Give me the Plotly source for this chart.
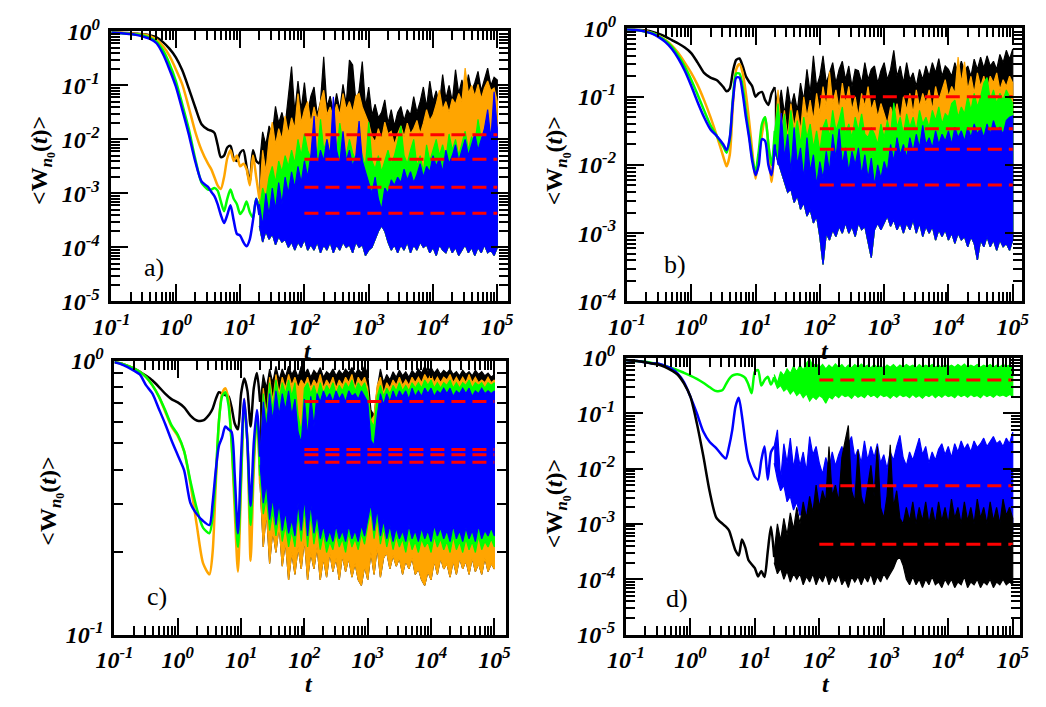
import plotly.graph_objects as go

# ---------------- sampling grids (log10 of t) ----------------
LT_SMOOTH = [-1.0, -0.9, -0.8, -0.7, -0.6, -0.5, -0.4, -0.3, -0.2, -0.1,
             0.0, 0.1, 0.2, 0.3, 0.4, 0.5, 0.55, 0.6, 0.65, 0.7,
             0.75, 0.8, 0.85, 0.9, 0.95, 1.0, 1.05, 1.1, 1.15, 1.2,
             1.25, 1.3]
LT_NOISE = [1.30, 1.35, 1.40, 1.45, 1.50, 1.55, 1.60, 1.65, 1.70, 1.75, 1.80, 1.85, 1.90, 1.95, 2.00,
            2.05, 2.10, 2.15, 2.20, 2.25, 2.30, 2.35, 2.40, 2.45, 2.50, 2.55, 2.60, 2.65, 2.70, 2.75,
            2.80, 2.85, 2.90, 2.95, 3.00, 3.05, 3.10, 3.15, 3.20, 3.25, 3.30, 3.35, 3.40, 3.45, 3.50,
            3.55, 3.60, 3.65, 3.70, 3.75, 3.80, 3.85, 3.90, 3.95, 4.00, 4.05, 4.10, 4.15, 4.20, 4.25,
            4.30, 4.35, 4.40, 4.45, 4.50, 4.55, 4.60, 4.65, 4.70, 4.75, 4.80, 4.85, 4.90, 4.95, 5.00]

# ---------------- panel a (log10 <W>) ----------------
A_BLACK_S = [-0.02, -0.02, -0.03, -0.035, -0.045, -0.055, -0.075, -0.11, -0.2, -0.32,
             -0.48, -0.72, -1.05, -1.4, -1.72, -1.82, -1.84, -1.88, -2.1, -2.33,
             -2.3, -2.15, -2.12, -2.35, -2.4, -2.25, -2.2, -2.5, -2.8, -2.2,
             -2.4, -2.45]
A_ORANGE_S = [-0.02, -0.02, -0.03, -0.04, -0.05, -0.06, -0.09, -0.15, -0.27, -0.45,
              -0.7, -0.98, -1.4, -1.85, -2.2, -2.45, -2.55, -2.7, -2.85, -2.92,
              -2.7, -2.35, -2.2, -2.4, -2.3, -2.5, -2.45, -2.55, -2.85, -2.3,
              -2.7, -3.1]
A_GREEN_S = [-0.02, -0.03, -0.04, -0.05, -0.06, -0.08, -0.12, -0.19, -0.35, -0.6,
             -0.92, -1.35, -1.8, -2.35, -2.8, -2.93, -2.93, -2.9, -2.95, -3.15,
             -3.33, -3.1, -2.93, -3.1, -3.2, -3.38, -3.3, -3.15, -3.35, -3.45,
             -3.1, -3.25]
A_BLUE_S = [-0.02, -0.03, -0.04, -0.05, -0.07, -0.1, -0.14, -0.22, -0.42, -0.7,
            -1.02, -1.45, -1.9, -2.4, -2.78, -2.88, -2.97, -3.05, -3.2, -3.4,
            -3.55, -3.4, -3.22, -3.5, -3.75, -3.78, -3.9, -3.98, -3.85, -3.5,
            -3.1, -3.4]
A_BLACK_UP = [-2.45, -1.86, -2.1, -1.75, -1.9, -1.39, -1.7, -1.5, -1.75, -1.2, -0.65, -1.5, -0.92, -1.45, -0.95,
              -1.5, -1.2, -1.03, -1.55, -1.3, -0.47, -1.4, -1.2, -1.5, -1.15, -1.45, -0.98, -1.35, -0.53, -0.62,
              -1.3, -1.1, -0.56, -1.4, -1.03, -1.55, -1.35, -1.6, -1.5, -1.27, -1.7, -1.45, -1.75, -1.5, -1.39,
              -1.65, -1.45, -1.55, -1.21, -1.5, -1.3, -1.03, -1.4, -0.92, -1.3, -1.1, -1.35, -0.8, -1.25, -1.0,
              -1.3, -0.71, -1.15, -0.9, -1.2, -0.8, -1.1, -0.95, -0.74, -1.1, -0.9, -0.68, -1.0, -0.85, -0.9]
A_ORANGE_UP = [-3.1, -2.2, -2.6, -2.0, -1.68, -2.1, -1.8, -2.0, -1.57, -1.9, -1.6, -1.8, -1.15, -1.7, -1.45,
               -1.3, -1.7, -1.4, -1.65, -1.3, -1.09, -1.55, -1.4, -1.6, -1.35, -1.55, -1.15, -1.45, -1.3, -1.5,
               -1.2, -1.15, -1.4, -1.55, -1.7, -1.95, -2.05, -1.8, -2.0, -1.68, -1.9, -1.85, -2.1, -1.9, -1.75,
               -1.95, -1.7, -1.9, -1.8, -1.65, -1.9, -1.7, -1.45, -1.65, -1.55, -1.35, -1.09, -1.45, -1.3, -1.5,
               -1.25, -1.35, -1.15, -1.3, -0.68, -1.15, -1.0, -1.2, -0.98, -1.25, -1.05, -0.92, -1.1, -1.05, -1.3]
A_GREEN_UP = [-3.3, -2.9, -3.1, -2.7, -2.5, -2.8, -2.4, -2.6, -2.3, -2.5, -2.2, -2.45, -2.0, -2.3, -1.9,
              -2.2, -2.35, -2.0, -2.3, -1.63, -2.2, -2.0, -2.3, -1.9, -2.25, -1.7, -2.1, -2.3, -2.0, -2.25,
              -2.4, -2.1, -2.3, -2.5, -1.68, -2.4, -2.55, -2.3, -2.6, -2.4, -2.2, -2.45, -2.3, -2.05, -1.75,
              -2.3, -2.45, -2.2, -2.0, -2.5, -2.3, -2.6, -2.1, -2.4, -2.2, -2.0, -2.3, -2.1, -2.35, -1.9,
              -2.2, -2.0, -2.3, -2.05, -1.85, -2.2, -1.95, -2.1, -1.63, -2.0, -1.9, -1.63, -1.95, -2.1, -2.3]
A_BLUE_UP = [-3.2, -3.6, -3.0, -3.4, -2.9, -3.3, -2.8, -3.2, -2.7, -3.0, -2.6, -2.9, -2.5, -2.8, -2.4,
             -2.7, -2.3, -1.57, -2.5, -2.2, -2.4, -2.0, -2.3, -1.21, -2.2, -2.45, -1.85, -2.4, -2.2, -2.5,
             -2.3, -1.66, -2.4, -2.6, -2.8, -3.0, -2.7, -3.1, -3.3, -2.9, -3.0, -2.75, -2.85, -2.7, -2.8,
             -2.55, -2.75, -2.6, -2.8, -2.65, -2.45, -2.7, -2.5, -2.6, -2.3, -2.5, -2.35, -2.6, -2.2, -2.45,
             -2.3, -2.1, -2.4, -2.2, -2.0, -2.3, -2.1, -1.9, -2.2, -2.0, -1.8, -1.45, -2.0, -1.12, -1.8]
A_LOW = [-3.6, -3.9, -3.7, -3.85, -3.75, -3.95, -3.8, -3.9, -3.85, -4.0, -3.9, -4.05, -3.9, -4.0, -3.85,
         -4.05, -3.95, -4.05, -3.9, -4.1, -3.95, -4.05, -3.9, -4.1, -3.95, -4.05, -3.9, -4.0, -3.95, -4.1,
         -3.9, -4.0, -3.95, -4.15, -4.05, -4.0, -3.85, -3.7, -3.6, -3.7, -3.9, -4.05, -3.95, -4.1, -3.95,
         -4.05, -3.9, -4.1, -3.95, -4.05, -3.9, -4.0, -3.95, -4.1, -4.0, -4.15, -3.95, -4.05, -4.1, -3.95,
         -4.1, -4.0, -4.15, -4.05, -3.95, -4.1, -4.0, -4.15, -4.0, -4.1, -3.95, -4.1, -4.05, -4.15, -4.0]
A_MEAN = [0.0122, 0.0043, 0.0013, 0.00043]

# ---------------- panel b ----------------
B_BLACK_S = [-0.01, -0.01, -0.02, -0.03, -0.05, -0.08, -0.12, -0.17, -0.22, -0.28,
             -0.36, -0.5, -0.65, -0.72, -0.76, -0.86, -0.92, -0.88, -0.62, -0.46,
             -0.44, -0.55, -0.7, -0.78, -0.85, -1.0, -0.95, -0.93, -1.05, -1.12,
             -0.95, -0.86]
B_ORANGE_S = [-0.01, -0.02, -0.03, -0.04, -0.07, -0.11, -0.17, -0.25, -0.36, -0.5,
              -0.65, -0.83, -1.05, -1.3, -1.58, -1.88, -2.02, -1.85, -1.1, -0.6,
              -0.52, -0.65, -0.95, -1.35, -1.8, -2.2, -1.9, -1.55, -1.3, -1.7,
              -2.25, -1.6]
B_GREEN_S = [-0.01, -0.02, -0.03, -0.05, -0.07, -0.12, -0.18, -0.27, -0.4, -0.56,
             -0.75, -0.97, -1.2, -1.42, -1.58, -1.73, -1.82, -1.62, -1.0, -0.66,
             -0.66, -0.85, -1.2, -1.55, -1.9, -2.1, -1.8, -1.4, -1.3, -1.7,
             -2.0, -1.5]
B_BLUE_S = [-0.01, -0.02, -0.03, -0.05, -0.08, -0.13, -0.2, -0.3, -0.44, -0.62,
            -0.84, -1.08, -1.3, -1.48, -1.58, -1.7, -1.78, -1.6, -1.05, -0.72,
            -0.72, -0.95, -1.3, -1.6, -1.95, -2.15, -2.0, -1.62, -1.65, -2.0,
            -2.15, -1.7]
B_BLACK_UP = [-0.86, -1.2, -0.9, -1.25, -0.85, -1.15, -0.95, -1.2, -0.8, -1.05, -0.6, -0.95, -0.4, -0.85, -0.7,
              -0.4, -0.8, -0.65, -0.5, -0.8, -0.6, -0.48, -0.75, -0.55, -0.85, -0.6, -0.62, -0.8, -0.5, -0.75,
              -0.6, -0.55, -0.8, -0.62, -0.5, -0.75, -0.6, -0.32, -0.7, -0.55, -0.8, -0.5, -0.75, -0.65, -0.85,
              -0.6, -0.75, -0.55, -0.7, -0.5, -0.65, -0.44, -0.7, -0.55, -0.6, -0.7, -0.5, -0.65, -0.48, -0.62,
              -0.55, -0.7, -0.45, -0.6, -0.42, -0.58, -0.4, -0.55, -0.48, -0.6, -0.38, -0.5, -0.32, -0.45, -0.3]
B_ORANGE_UP = [-1.6, -0.9, -1.5, -1.2, -1.6, -1.1, -1.45, -1.2, -1.5, -1.0, -1.3, -1.05, -1.35, -0.95, -1.25,
               -0.85, -1.15, -0.63, -1.1, -0.9, -1.2, -0.8, -1.1, -0.85, -1.2, -1.0, -1.3, -0.95, -1.15, -0.85,
               -1.2, -1.05, -1.3, -1.1, -1.25, -1.4, -1.15, -1.3, -1.1, -1.35, -1.0, -1.2, -0.95, -1.25, -0.9,
               -1.15, -0.95, -1.1, -0.9, -1.2, -0.85, -1.05, -0.9, -0.75, -1.0, -0.85, -0.95, -0.42, -0.8, -0.49,
               -0.9, -0.7, -0.95, -0.65, -0.85, -0.7, -0.9, -0.7, -0.8, -0.65, -0.9, -0.75, -0.85, -0.7, -0.8]
B_GREEN_UP = [-1.5, -1.1, -1.6, -1.25, -1.7, -1.2, -1.6, -1.35, -1.7, -1.3, -1.6, -1.4, -1.75, -1.5, -1.8,
              -1.45, -1.33, -1.6, -1.2, -1.5, -1.35, -1.15, -1.55, -1.4, -1.6, -1.3, -1.5, -1.25, -1.55, -1.6,
              -1.45, -1.55, -1.7, -1.4, -1.6, -1.35, -1.55, -1.09, -1.45, -1.3, -1.55, -1.25, -1.45, -1.3, -1.5,
              -1.2, -1.4, -1.3, -1.45, -1.2, -1.35, -1.15, -1.4, -1.25, -1.3, -1.1, -1.05, -1.3, -1.15, -1.25,
              -1.0, -1.2, -0.95, -1.15, -1.0, -0.8, -0.72, -1.05, -0.9, -1.1, -0.95, -1.05, -0.9, -1.0, -1.1]
B_BLUE_UP = [-1.7, -2.0, -1.24, -1.9, -1.55, -2.1, -1.45, -2.0, -1.75, -2.2, -1.6, -2.1, -1.85, -2.3, -1.95,
             -2.2, -1.8, -2.1, -1.55, -1.9, -1.47, -2.0, -1.75, -2.1, -1.8, -2.0, -1.75, -2.15, -1.85, -2.2,
             -1.9, -2.3, -2.0, -2.2, -1.95, -2.1, -1.7, -1.95, -1.6, -1.85, -1.7, -1.9, -1.6, -1.8, -1.55,
             -1.75, -1.42, -1.7, -1.6, -1.75, -1.5, -1.7, -1.55, -1.65, -1.5, -1.7, -1.45, -1.6, -1.5, -1.65,
             -1.45, -1.6, -1.4, -1.55, -1.45, -1.6, -1.4, -1.55, -1.35, -1.5, -1.45, -1.55, -1.35, -1.3, -1.28]
B_LOW = [-1.8, -1.95, -2.1, -2.25, -2.4, -2.35, -2.55, -2.45, -2.65, -2.55, -2.75, -2.65, -2.85, -2.75, -3.05,
         -3.46, -3.0, -3.1, -2.95, -3.05, -2.9, -3.0, -2.85, -3.0, -2.9, -3.05, -2.85, -2.95, -2.9, -3.1,
         -3.36, -2.95, -2.85, -2.95, -2.85, -2.75, -2.9, -2.8, -2.95, -2.85, -3.0, -2.85, -2.95, -2.8, -3.0,
         -2.85, -3.05, -2.9, -3.0, -2.9, -3.1, -2.95, -3.05, -2.95, -3.1, -3.0, -3.15, -3.0, -3.1, -3.05,
         -3.2, -3.05, -3.15, -3.39, -3.1, -3.2, -3.05, -3.2, -3.1, -3.25, -3.1, -3.2, -3.15, -3.25, -3.1]
B_MEAN = [0.1, 0.034, 0.017, 0.0051]

# ---------------- panel c ----------------
C_BLACK_S = [-0.005, -0.01, -0.018, -0.027, -0.04, -0.055, -0.072, -0.095, -0.12, -0.14,
             -0.152, -0.17, -0.2, -0.218, -0.218, -0.195, -0.175, -0.14, -0.115, -0.12,
             -0.125, -0.13, -0.17, -0.23, -0.25, -0.12, -0.065, -0.11, -0.24, -0.1,
             -0.045, -0.15]
C_ORANGE_S = [-0.005, -0.01, -0.018, -0.028, -0.04, -0.06, -0.09, -0.13, -0.185, -0.24,
              -0.275, -0.33, -0.45, -0.6, -0.74, -0.78, -0.7, -0.45, -0.22, -0.12,
              -0.1, -0.14, -0.3, -0.55, -0.77, -0.45, -0.14, -0.3, -0.73, -0.4,
              -0.2, -0.45]
C_GREEN_S = [-0.005, -0.01, -0.018, -0.028, -0.04, -0.06, -0.09, -0.13, -0.18, -0.235,
             -0.27, -0.33, -0.44, -0.54, -0.61, -0.63, -0.57, -0.42, -0.22, -0.13,
             -0.115, -0.16, -0.3, -0.5, -0.68, -0.42, -0.15, -0.3, -0.6, -0.35,
             -0.2, -0.42]
C_BLUE_S = [-0.005, -0.012, -0.022, -0.035, -0.05, -0.09, -0.12, -0.175, -0.23, -0.29,
            -0.345, -0.4, -0.52, -0.56, -0.585, -0.6, -0.52, -0.4, -0.31, -0.28,
            -0.24, -0.25, -0.26, -0.42, -0.63, -0.35, -0.14, -0.3, -0.53, -0.3,
            -0.18, -0.35]
C_BLACK_UP = [-0.15, -0.05, -0.1, -0.03, -0.08, -0.02, -0.07, -0.03, -0.06, -0.02, -0.05, -0.03, -0.06, -0.02, -0.05,
              -0.03, -0.06, -0.035, -0.05, -0.025, -0.06, -0.04, -0.05, -0.03, -0.055, -0.035, -0.05, -0.03, -0.045, -0.025,
              -0.05, -0.03, -0.045, -0.02, -0.05, -0.18, -0.2, -0.1, -0.03, -0.08, -0.05, -0.07, -0.04, -0.06, -0.035,
              -0.055, -0.04, -0.06, -0.035, -0.05, -0.03, -0.045, -0.02, -0.04, -0.025, -0.045, -0.03, -0.05, -0.035, -0.045,
              -0.03, -0.05, -0.04, -0.055, -0.035, -0.05, -0.04, -0.055, -0.035, -0.05, -0.04, -0.055, -0.045, -0.06, -0.05]
C_ORANGE_UP = [-0.45, -0.1, -0.2, -0.06, -0.15, -0.05, -0.12, -0.06, -0.1, -0.05, -0.09, -0.06, -0.1, -0.07, -0.09,
               -0.06, -0.1, -0.07, -0.09, -0.05, -0.1, -0.07, -0.09, -0.06, -0.1, -0.07, -0.09, -0.06, -0.08, -0.05,
               -0.1, -0.06, -0.08, -0.06, -0.1, -0.22, -0.2, -0.09, -0.06, -0.12, -0.08, -0.1, -0.07, -0.09, -0.06,
               -0.09, -0.07, -0.09, -0.06, -0.08, -0.06, -0.08, -0.05, -0.07, -0.05, -0.08, -0.06, -0.08, -0.06, -0.07,
               -0.05, -0.08, -0.06, -0.08, -0.06, -0.08, -0.05, -0.08, -0.06, -0.08, -0.07, -0.08, -0.06, -0.08, -0.07]
C_GREEN_UP = [-0.42, -0.12, -0.22, -0.08, -0.18, -0.07, -0.14, -0.08, -0.12, -0.07, -0.13, -0.08, -0.2, -0.26, -0.1,
              -0.08, -0.12, -0.09, -0.13, -0.08, -0.12, -0.09, -0.11, -0.08, -0.12, -0.09, -0.11, -0.08, -0.1, -0.07,
              -0.11, -0.08, -0.1, -0.08, -0.12, -0.22, -0.24, -0.13, -0.09, -0.13, -0.1, -0.12, -0.09, -0.11, -0.08,
              -0.11, -0.09, -0.11, -0.08, -0.1, -0.08, -0.1, -0.07, -0.09, -0.07, -0.1, -0.08, -0.1, -0.08, -0.09,
              -0.07, -0.1, -0.08, -0.1, -0.08, -0.09, -0.07, -0.1, -0.08, -0.09, -0.08, -0.1, -0.08, -0.09, -0.08]
C_BLUE_UP = [-0.35, -0.15, -0.25, -0.12, -0.22, -0.11, -0.2, -0.12, -0.18, -0.11, -0.2, -0.14, -0.26, -0.3, -0.14,
             -0.28, -0.13, -0.24, -0.12, -0.15, -0.11, -0.14, -0.12, -0.15, -0.11, -0.14, -0.12, -0.15, -0.11, -0.13,
             -0.12, -0.14, -0.11, -0.13, -0.15, -0.29, -0.31, -0.2, -0.12, -0.16, -0.12, -0.15, -0.11, -0.14, -0.11,
             -0.13, -0.11, -0.14, -0.1, -0.13, -0.11, -0.13, -0.1, -0.12, -0.1, -0.13, -0.11, -0.12, -0.1, -0.12,
             -0.1, -0.13, -0.11, -0.12, -0.1, -0.12, -0.1, -0.13, -0.11, -0.12, -0.1, -0.12, -0.11, -0.12, -0.11]
C_BLUE_LO = [-0.38, -0.52, -0.45, -0.58, -0.5, -0.6, -0.52, -0.62, -0.55, -0.63, -0.58, -0.64, -0.52, -0.62, -0.5,
             -0.64, -0.52, -0.63, -0.56, -0.65, -0.6, -0.66, -0.62, -0.66, -0.6, -0.65, -0.62, -0.66, -0.6, -0.65,
             -0.62, -0.66, -0.6, -0.64, -0.58, -0.52, -0.62, -0.54, -0.64, -0.58, -0.65, -0.6, -0.66, -0.61, -0.65,
             -0.62, -0.66, -0.6, -0.65, -0.62, -0.66, -0.61, -0.65, -0.62, -0.66, -0.6, -0.64, -0.61, -0.65, -0.62,
             -0.66, -0.6, -0.65, -0.62, -0.66, -0.61, -0.65, -0.62, -0.66, -0.6, -0.65, -0.62, -0.64, -0.61, -0.64]
C_GREEN_LO = [-0.42, -0.56, -0.5, -0.62, -0.55, -0.64, -0.56, -0.66, -0.6, -0.68, -0.62, -0.68, -0.56, -0.66, -0.54,
              -0.68, -0.56, -0.67, -0.6, -0.69, -0.63, -0.7, -0.66, -0.69, -0.63, -0.68, -0.65, -0.7, -0.63, -0.68,
              -0.65, -0.69, -0.63, -0.67, -0.6, -0.55, -0.65, -0.57, -0.67, -0.61, -0.68, -0.63, -0.69, -0.64, -0.68,
              -0.65, -0.7, -0.64, -0.69, -0.66, -0.7, -0.65, -0.68, -0.66, -0.7, -0.64, -0.68, -0.65, -0.69, -0.66,
              -0.7, -0.64, -0.69, -0.66, -0.7, -0.65, -0.69, -0.66, -0.7, -0.64, -0.69, -0.66, -0.68, -0.65, -0.68]
C_ORANGE_LO = [-0.45, -0.68, -0.55, -0.74, -0.62, -0.7, -0.6, -0.75, -0.66, -0.8, -0.7, -0.78, -0.68, -0.76, -0.65,
               -0.8, -0.7, -0.76, -0.68, -0.8, -0.72, -0.79, -0.7, -0.77, -0.72, -0.8, -0.71, -0.77, -0.72, -0.79,
               -0.74, -0.8, -0.82, -0.75, -0.8, -0.7, -0.78, -0.68, -0.79, -0.72, -0.7, -0.76, -0.71, -0.75, -0.72,
               -0.78, -0.73, -0.76, -0.72, -0.78, -0.76, -0.8, -0.82, -0.77, -0.8, -0.73, -0.78, -0.72, -0.76, -0.74,
               -0.79, -0.73, -0.78, -0.72, -0.76, -0.73, -0.78, -0.72, -0.77, -0.74, -0.78, -0.72, -0.77, -0.74, -0.76]
C_MEAN = [0.71, 0.474, 0.454, 0.426]

# ---------------- panel d ----------------
D_GREEN_S = [-0.04, -0.05, -0.06, -0.07, -0.09, -0.11, -0.14, -0.18, -0.22, -0.27,
             -0.32, -0.38, -0.45, -0.53, -0.6, -0.58, -0.48, -0.38, -0.32, -0.3,
             -0.3, -0.32, -0.36, -0.48, -0.64, -0.25, -0.22, -0.5, -0.4, -0.34,
             -0.48, -0.35]
D_BLUE_S = [-0.04, -0.05, -0.06, -0.08, -0.1, -0.1, -0.14, -0.19, -0.28, -0.44,
            -0.7, -1.0, -1.33, -1.52, -1.63, -1.77, -1.82, -1.6, -1.3, -0.88,
            -0.72, -1.05, -1.5, -1.85, -2.0, -2.15, -2.2, -1.85, -1.6, -2.2,
            -1.7, -1.6]
D_BLACK_S = [-0.04, -0.05, -0.06, -0.08, -0.1, -0.12, -0.16, -0.22, -0.3, -0.46,
             -0.7, -1.18, -1.77, -2.42, -2.88, -3.0, -3.05, -3.12, -3.3, -3.48,
             -3.57, -3.28, -3.42, -3.65, -3.73, -3.8, -3.95, -3.85, -3.96, -3.5,
             -3.05, -3.6]
D_GREEN_UP = [-0.3, -0.45, -0.25, -0.32, -0.2, -0.28, -0.15, -0.25, -0.13, -0.22, -0.1, -0.02, -0.15, -0.1, -0.18,
              -0.12, -0.2, -0.13, -0.18, -0.11, -0.17, -0.12, -0.19, -0.13, -0.18, -0.12, -0.17, -0.11, -0.16, -0.13,
              -0.18, -0.12, -0.17, -0.14, -0.19, -0.13, -0.17, -0.12, -0.18, -0.13, -0.17, -0.12, -0.16, -0.13, -0.18,
              -0.12, -0.17, -0.13, -0.16, -0.12, -0.17, -0.13, -0.18, -0.12, -0.16, -0.13, -0.17, -0.12, -0.16, -0.11,
              -0.17, -0.13, -0.16, -0.12, -0.17, -0.13, -0.16, -0.12, -0.17, -0.13, -0.16, -0.12, -0.15, -0.13, -0.16]
D_GREEN_LO = [-0.4, -0.55, -0.5, -0.6, -0.55, -0.65, -0.58, -0.68, -0.62, -0.72, -0.65, -0.78, -0.7, -0.75, -0.68,
              -0.72, -0.82, -0.7, -0.74, -0.67, -0.72, -0.66, -0.7, -0.68, -0.73, -0.66, -0.71, -0.68, -0.72, -0.65,
              -0.7, -0.67, -0.72, -0.66, -0.7, -0.68, -0.73, -0.67, -0.71, -0.66, -0.7, -0.68, -0.72, -0.66, -0.71,
              -0.68, -0.73, -0.67, -0.7, -0.66, -0.72, -0.67, -0.71, -0.66, -0.7, -0.68, -0.72, -0.66, -0.7, -0.67,
              -0.71, -0.66, -0.7, -0.68, -0.72, -0.66, -0.7, -0.67, -0.71, -0.66, -0.69, -0.67, -0.7, -0.66, -0.69]
D_BLUE_UP = [-1.6, -1.3, -2.2, -1.55, -1.9, -1.45, -2.0, -1.6, -1.95, -1.7, -2.05, -1.42, -1.75, -1.6, -1.9,
             -2.1, -1.8, -2.0, -1.7, -1.95, -1.75, -1.6, -1.85, -1.55, -1.42, -1.8, -1.65, -1.9, -1.5, -1.85,
             -1.6, -1.8, -1.55, -1.9, -1.75, -2.0, -1.7, -1.85, -1.6, -1.4, -1.8, -1.95, -1.7, -1.85, -1.65,
             -1.45, -1.75, -1.6, -1.9, -1.7, -1.85, -1.65, -1.55, -1.75, -1.6, -1.8, -1.55, -1.7, -1.5, -1.65,
             -1.55, -1.7, -1.5, -1.62, -1.55, -1.45, -1.6, -1.5, -1.42, -1.55, -1.5, -1.6, -1.45, -1.55, -1.34]
D_BLUE_LO = [-1.9, -2.2, -2.4, -2.3, -2.6, -2.5, -2.75, -2.6, -2.85, -2.7, -2.95, -2.8, -3.0, -2.9, -3.1,
             -3.47, -3.1, -3.2, -3.0, -3.15, -3.05, -3.2, -3.0, -3.1, -2.95, -3.15, -3.05, -3.3, -3.1, -3.2,
             -3.0, -3.1, -2.95, -3.05, -2.9, -3.1, -2.95, -3.1, -3.0, -3.15, -2.95, -3.1, -3.0, -3.2, -3.05,
             -3.15, -3.0, -3.2, -3.05, -3.15, -3.0, -3.2, -3.05, -3.15, -3.0, -3.2, -3.1, -3.2, -3.05, -3.15,
             -3.1, -3.25, -3.1, -3.35, -3.15, -3.2, -3.1, -3.25, -3.1, -3.2, -3.15, -3.25, -3.1, -3.2, -3.15]
D_BLACK_UP = [-3.5, -3.0, -3.3, -2.9, -3.2, -2.8, -3.1, -2.7, -3.0, -2.6, -2.9, -2.5, -2.8, -2.3, -2.7,
              -2.4, -2.6, -1.6, -2.5, -2.3, -2.6, -1.8, -1.5, -1.22, -2.4, -2.6, -1.68, -2.5, -2.7, -2.3,
              -1.94, -2.5, -1.6, -2.7, -2.9, -2.5, -1.57, -2.7, -2.4, -2.9, -3.0, -2.7, -2.95, -2.6, -3.0,
              -2.7, -2.95, -2.6, -3.0, -2.7, -3.0, -2.6, -2.95, -2.7, -3.0, -2.55, -2.9, -2.7, -3.0, -2.6,
              -2.95, -2.7, -3.0, -2.55, -2.9, -2.7, -3.0, -2.6, -2.95, -2.7, -3.0, -2.55, -2.85, -2.7, -2.9]
D_BLACK_LO = [-3.7, -3.9, -3.8, -4.0, -3.85, -4.05, -3.9, -4.0, -3.9, -4.1, -3.95, -4.05, -3.9, -4.1, -3.95,
              -4.05, -3.9, -4.1, -3.95, -4.05, -3.9, -4.1, -4.0, -4.15, -3.95, -4.05, -3.95, -4.1, -3.95, -4.05,
              -3.9, -4.1, -3.95, -4.05, -3.9, -4.0, -3.9, -3.8, -3.65, -3.6, -3.75, -4.0, -4.1, -3.95, -4.1,
              -4.0, -4.15, -4.0, -4.1, -3.95, -4.1, -4.05, -4.15, -4.0, -4.1, -4.0, -4.15, -4.05, -4.1, -3.95,
              -4.15, -4.05, -4.1, -4.0, -4.15, -4.05, -4.1, -4.0, -4.15, -4.05, -4.1, -4.0, -4.1, -4.05, -4.1]
D_MEAN = [0.40, 0.0049, 0.00043]

T_MEAN = [1e2, 1e5]

BLACK, ORANGE, GREEN, BLUE, RED = "#000000", "#FFA500", "#00FF00", "#0000FF", "#FF0000"

# ---------------- build figure ----------------
fig = go.Figure()


def p10(v):
    return [10 ** x for x in v]


def check(name, arr, n):
    if len(arr) != n:
        raise ValueError(f"{name} has {len(arr)} values, expected {n}")


def add_series(k, color, smooth, up, lo, name):
    check(name + "_S", smooth, len(LT_SMOOTH))
    check(name + "_UP", up, len(LT_NOISE))
    check(name + "_LO", lo, len(LT_NOISE))
    xa = "x" if k == 1 else f"x{k}"
    ya = "y" if k == 1 else f"y{k}"
    tn = p10(LT_NOISE)
    fig.add_trace(go.Scatter(
        x=tn + tn[::-1], y=p10(up) + p10(lo)[::-1], mode="lines", fill="toself",
        fillcolor=color, line=dict(color=color, width=1.2), xaxis=xa, yaxis=ya,
        hoverinfo="skip", showlegend=False))
    fig.add_trace(go.Scatter(
        x=p10(LT_SMOOTH), y=p10(smooth), mode="lines",
        line=dict(color=color, width=2.5, shape="spline", smoothing=0.7),
        xaxis=xa, yaxis=ya, hoverinfo="skip", showlegend=False))


def add_means(k, vals):
    xa = "x" if k == 1 else f"x{k}"
    ya = "y" if k == 1 else f"y{k}"
    for v in vals:
        fig.add_trace(go.Scatter(
            x=T_MEAN, y=[v, v], mode="lines",
            line=dict(color=RED, width=3, dash="14px,7px"),
            xaxis=xa, yaxis=ya, hoverinfo="skip", showlegend=False))


# panel a
add_series(1, BLACK, A_BLACK_S, A_BLACK_UP, A_LOW, "A_BLACK")
add_series(1, ORANGE, A_ORANGE_S, A_ORANGE_UP, A_LOW, "A_ORANGE")
add_series(1, GREEN, A_GREEN_S, A_GREEN_UP, A_LOW, "A_GREEN")
add_series(1, BLUE, A_BLUE_S, A_BLUE_UP, A_LOW, "A_BLUE")
add_means(1, A_MEAN)
# panel b
add_series(2, BLACK, B_BLACK_S, B_BLACK_UP, B_LOW, "B_BLACK")
add_series(2, ORANGE, B_ORANGE_S, B_ORANGE_UP, B_LOW, "B_ORANGE")
add_series(2, GREEN, B_GREEN_S, B_GREEN_UP, B_LOW, "B_GREEN")
add_series(2, BLUE, B_BLUE_S, B_BLUE_UP, B_LOW, "B_BLUE")
add_means(2, B_MEAN)
# panel c
add_series(3, BLACK, C_BLACK_S, C_BLACK_UP, C_ORANGE_LO, "C_BLACK")
add_series(3, ORANGE, C_ORANGE_S, C_ORANGE_UP, C_ORANGE_LO, "C_ORANGE")
add_series(3, GREEN, C_GREEN_S, C_GREEN_UP, C_GREEN_LO, "C_GREEN")
add_series(3, BLUE, C_BLUE_S, C_BLUE_UP, C_BLUE_LO, "C_BLUE")
add_means(3, C_MEAN)
# panel d
add_series(4, GREEN, D_GREEN_S, D_GREEN_UP, D_GREEN_LO, "D_GREEN")
add_series(4, BLUE, D_BLUE_S, D_BLUE_UP, D_BLUE_LO, "D_BLUE")
add_series(4, BLACK, D_BLACK_S, D_BLACK_UP, D_BLACK_LO, "D_BLACK")
add_means(4, D_MEAN)

# ---------------- axes ----------------
TICK_FONT = dict(family="Liberation Serif", size=24, color="black")


def decade_ticks(lo, hi):
    major = [10.0 ** e for e in range(lo, hi + 1)]
    text = [f"<b><i>10<sup>{e}</sup></i></b>" for e in range(lo, hi + 1)]
    minor = [m * 10.0 ** e for e in range(lo, hi) for m in range(2, 10)]
    return major, text, minor


def axis(domain, rng, lo, hi, anchor, minor_len=9, standoff=6):
    major, text, minor = decade_ticks(lo, hi)
    return dict(
        type="log", domain=domain, range=rng, anchor=anchor,
        showline=True, linewidth=3, linecolor="black", mirror="allticks",
        ticks="inside", ticklen=17, tickwidth=2, tickcolor="black",
        tickmode="array", tickvals=major, ticktext=text, tickfont=TICK_FONT,
        ticklabelstandoff=standoff,
        showgrid=False, zeroline=False,
        minor=dict(tickmode="array", tickvals=minor, ticks="inside",
                   ticklen=minor_len, tickwidth=2, tickcolor="black", showgrid=False),
    )


W, H = 1046, 707


def fx(a, b):
    return [a / W, b / W]


def fy(top, bottom):
    return [1 - bottom / H, 1 - top / H]


layout = dict(
    width=W, height=H, margin=dict(l=0, r=0, t=0, b=0),
    paper_bgcolor="white", plot_bgcolor="white", showlegend=False,
    xaxis=axis(fx(94, 502), [-1.015, 5.167], -1, 5, "y", standoff=2),
    yaxis=axis(fy(15, 297), [-5, 0], -5, 0, "x", standoff=3),
    xaxis2=axis(fx(624, 1030), [-1.0, 5.15], -1, 5, "y2", standoff=2),
    yaxis2=axis(fy(12, 297), [-4, 0], -4, 0, "x2", standoff=3),
    xaxis3=axis(fx(98, 500), [-1.0, 5.185], -1, 5, "y3", standoff=2),
    yaxis3=axis(fy(359, 645), [-1, 0], -1, 0, "x3", standoff=3),
    xaxis4=axis(fx(623, 1028), [-1.0, 5.12], -1, 5, "y4", standoff=2),
    yaxis4=axis(fy(356, 645), [-5, 0], -5, 0, "x4", standoff=3),
)
fig.update_layout(**layout)

# ---------------- annotations ----------------
YT = "<b>&lt;W<sub><i>n</i><sub>0</sub></sub>(<i>t</i>)&gt;</b>"
TITLE_FONT = dict(family="Liberation Serif", size=24, color="black")
LABEL_FONT = dict(family="Liberation Serif", size=26, color="black")
ann = []
for (x, y) in [(24, 150), (553, 150), (33, 506), (553, 508)]:
    ann.append(dict(x=x / W, y=1 - y / H, xref="paper", yref="paper", text=YT,
                    textangle=-90, showarrow=False, font=TITLE_FONT,
                    xanchor="center", yanchor="middle"))
for (x, y) in [(297, 349), (827, 349), (298, 697), (828, 697)]:
    ann.append(dict(x=x / W, y=1 - y / H, xref="paper", yref="paper",
                    text="<b><i>t</i></b>", showarrow=False, font=TITLE_FONT,
                    xanchor="center", yanchor="middle"))
for (x, y, s) in [(139, 262, "a)"), (673, 258, "b)"), (142, 605, "c)"), (675, 607, "d)")]:
    ann.append(dict(x=x / W, y=1 - y / H, xref="paper", yref="paper",
                    text=s, showarrow=False, font=LABEL_FONT,
                    xanchor="center", yanchor="middle"))
fig.update_layout(annotations=ann)

fig.write_html("out.html")
